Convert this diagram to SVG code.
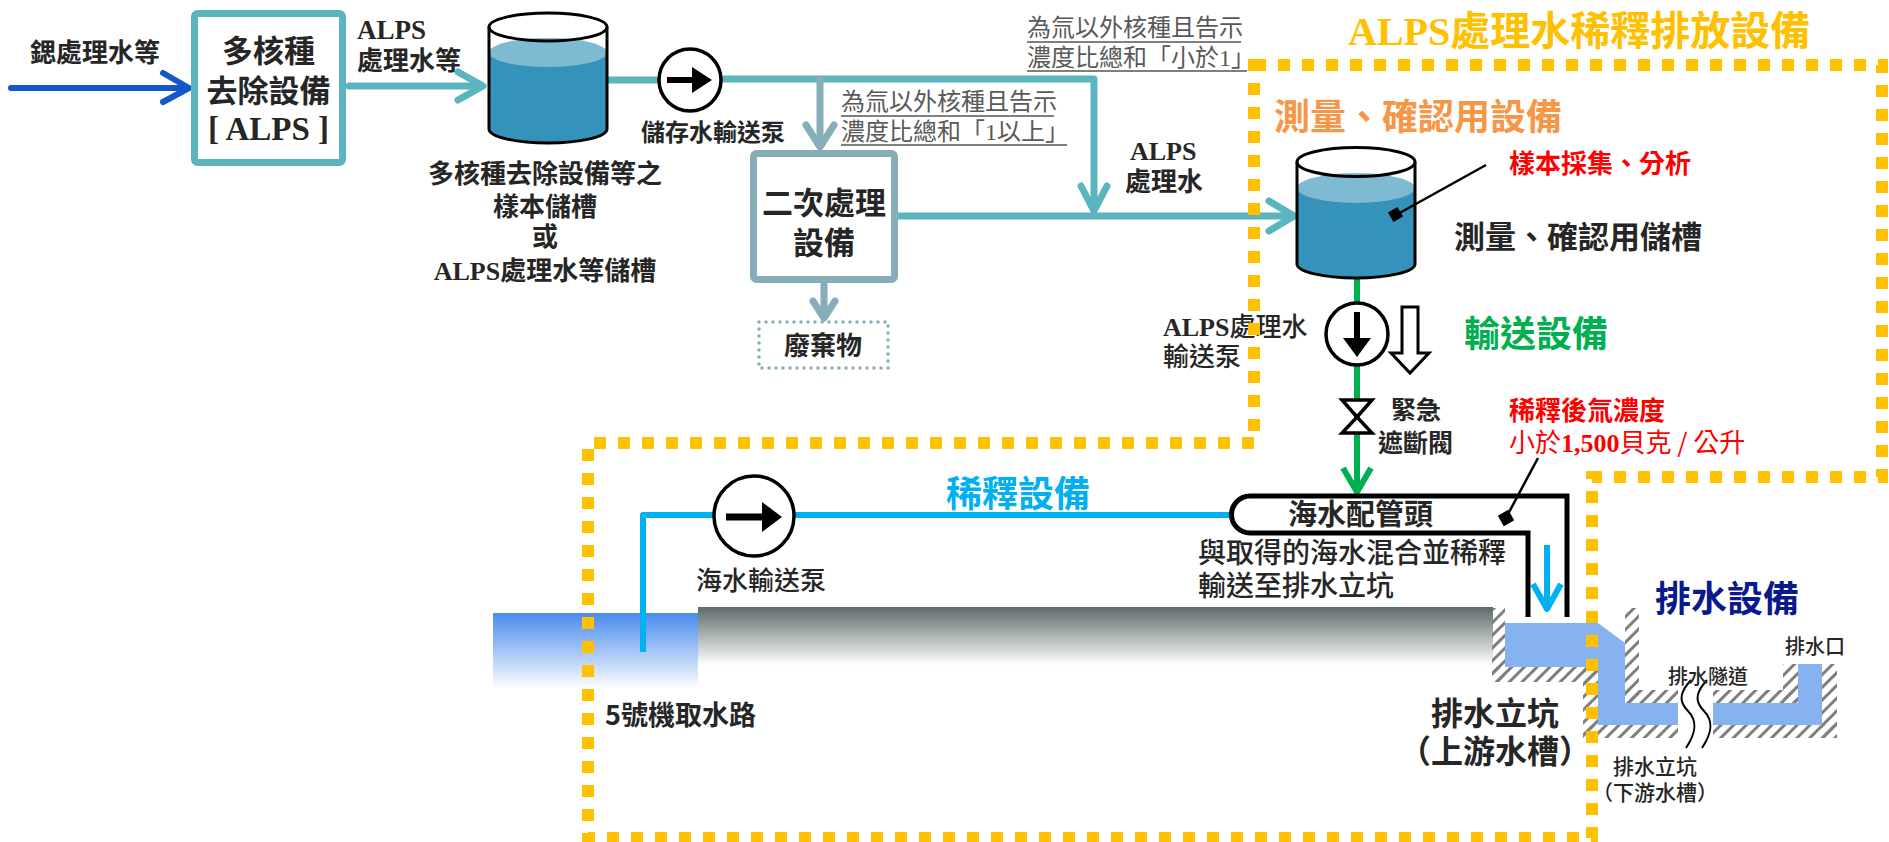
<svg xmlns="http://www.w3.org/2000/svg" width="1889" height="842" viewBox="0 0 1889 842">
<defs>
<linearGradient id="seaGrad" x1="0" y1="0" x2="0" y2="1"><stop offset="0" stop-color="#4A8BEE"/><stop offset="1" stop-color="#FFFFFF"/></linearGradient>
<linearGradient id="groundGrad" x1="0" y1="0" x2="0" y2="1"><stop offset="0" stop-color="#5E6A6A"/><stop offset="1" stop-color="#FFFFFF"/></linearGradient>
<pattern id="hatch" width="9" height="9" patternUnits="userSpaceOnUse" patternTransform="rotate(45)"><rect width="3" height="9" fill="#7F7F7F"/></pattern>
</defs>
<style>
text{font-family:"Noto Sans CJK TC","Noto Sans CJK SC",sans-serif;fill:#262626;}
.b{font-weight:700}
.m{font-weight:500}
.r{font-weight:400}
.serif{font-family:"Liberation Serif","Times New Roman",serif;font-weight:700}
.teal{stroke:#5AB5BF;stroke-width:7;fill:none;stroke-linecap:round;stroke-linejoin:round}
.gteal{stroke:#86AEB9;stroke-width:7;fill:none;stroke-linecap:round;stroke-linejoin:round}
.blue{stroke:#1457C9;stroke-width:6;fill:none;stroke-linecap:round;stroke-linejoin:round}
.cyan{stroke:#00B0F0;stroke-width:6;fill:none;stroke-linejoin:round}
.green{stroke:#00B050;stroke-width:6;fill:none;stroke-linejoin:round}
.out{stroke:#000;stroke-width:3;fill:none}
.pump{stroke:#000;stroke-width:3.5;fill:#fff}
.note{font-size:24px;fill:#595959;font-weight:400}
.ul{stroke:#7F7F7F;stroke-width:2}
.dots{stroke:#FFC000;stroke-width:12;fill:none;stroke-dasharray:12 12}
.water{fill:#86B2F2}
.htch{fill:url(#hatch)}
</style>

<!-- ground and sea background -->
<g id="ground">
<rect x="698" y="607" width="795" height="58" fill="url(#groundGrad)"/>
</g>
<g id="sea-intake">
<rect x="493" y="613" width="205" height="76" fill="url(#seaGrad)"/>
</g>

<!-- connectors -->
<g id="connectors">
<line class="blue" x1="11" y1="88" x2="186" y2="88"/>
<polyline class="blue" points="163,73 189,88 163,102"/>
<line class="teal" x1="349" y1="86" x2="481" y2="86"/>
<polyline class="teal" points="458,72 483,86 458,100"/>
<line class="teal" x1="607" y1="80" x2="659" y2="80"/>
<path class="teal" d="M721,79 H1094 V209"/>
<polyline class="teal" points="1081,186 1094,211 1107,186"/>
<path class="gteal" d="M820,79 V145"/>
<polyline class="gteal" points="806,125 820,147 834,125"/>
<line class="teal" x1="898" y1="216" x2="1292" y2="216"/>
<polyline class="teal" points="1269,201 1294,216 1269,231"/>
<path class="gteal" d="M824,283 V315"/>
<polyline class="gteal" points="813,301 824,318 835,301"/>
<line class="green" x1="1357" y1="277" x2="1357" y2="490"/>
<polyline class="green" points="1343,468 1357,492 1371,468"/>
<path class="cyan" d="M643,652 V515 H1232"/>
<line class="cyan" x1="1547" y1="545" x2="1547" y2="608"/>
<polyline class="cyan" points="1533,584 1547,609 1561,584"/>
</g>

<g id="alps-box">
<rect x="194.5" y="13.5" width="148" height="149" rx="3" fill="#fff" stroke="#5AB5BF" stroke-width="7"/>
<text class="b" x="268.5" y="62" font-size="31" text-anchor="middle">多核種</text>
<text class="b" x="268.5" y="102" font-size="31" text-anchor="middle">去除設備</text>
<text class="serif" x="268.5" y="140" font-size="33" text-anchor="middle" fill="#262626">[ ALPS ]</text>
</g>

<g id="input-label">
<text class="b" x="30" y="62" font-size="26">鍶處理水等</text>
</g>

<g id="alps-water-label">
<text class="serif" x="357" y="39" font-size="27">ALPS</text>
<text class="b" x="357" y="70" font-size="26">處理水等</text>
</g>

<g id="tank1">
<path d="M489,52 L489,129 A59,14 0 0 0 607,129 L607,52 Z" fill="#3592BA"/>
<ellipse cx="548" cy="52.5" rx="59" ry="14.5" fill="#7EBAD2"/>
<path class="out" d="M489,27 L489,129 A59,14 0 0 0 607,129 L607,27"/>
<ellipse class="out" cx="548" cy="27" rx="59" ry="14"/>
<text class="b" x="545" y="183" font-size="26" text-anchor="middle">多核種去除設備等之</text>
<text class="b" x="545" y="216" font-size="26" text-anchor="middle">樣本儲槽</text>
<text class="b" x="545" y="246" font-size="26" text-anchor="middle">或</text>
<text class="b" x="545" y="280" font-size="26" text-anchor="middle"><tspan class="serif">ALPS</tspan>處理水等儲槽</text>
</g>

<g id="storage-pump">
<circle class="pump" cx="690" cy="80" r="31"/>
<line x1="667" y1="80" x2="696" y2="80" stroke="#000" stroke-width="6"/>
<polygon points="692,67 712,80 692,93" fill="#000"/>
<text class="b" x="641" y="141" font-size="24">儲存水輸送泵</text>
</g>

<g id="note-under1">
<text class="note" x="1027" y="36">為氚以外核種且告示</text>
<text class="note" x="1027" y="66">濃度比總和「小於<tspan font-family="Liberation Serif, serif">1</tspan>」</text>
<line class="ul" x1="1027" y1="42" x2="1241" y2="42"/>
<line class="ul" x1="1027" y1="71" x2="1247" y2="71"/>
</g>

<g id="note-over1">
<text class="note" x="841" y="110">為氚以外核種且告示</text>
<text class="note" x="841" y="140">濃度比總和「<tspan font-family="Liberation Serif, serif">1</tspan>以上」</text>
<line class="ul" x1="841" y1="116" x2="1054" y2="116"/>
<line class="ul" x1="841" y1="145" x2="1067" y2="145"/>
</g>

<g id="secondary">
<rect x="753.5" y="153.5" width="141" height="126" rx="3" fill="#fff" stroke="#86AEB9" stroke-width="7"/>
<text class="b" x="824" y="214" font-size="31" text-anchor="middle">二次處理</text>
<text class="b" x="824" y="254" font-size="31" text-anchor="middle">設備</text>
</g>

<g id="waste">
<rect x="759" y="322" width="129" height="46" fill="none" stroke="#86AEB9" stroke-width="3.5" stroke-dasharray="0 7" stroke-linecap="round"/>
<text class="b" x="823" y="355" font-size="26" text-anchor="middle">廢棄物</text>
</g>

<g id="alps-treated-label">
<text class="serif" x="1130" y="160" font-size="26">ALPS</text>
<text class="b" x="1125" y="191" font-size="26">處理水</text>
</g>

<g id="tank2">
<path d="M1297,188 L1297,264 A59,14 0 0 0 1415,264 L1415,188 Z" fill="#3592BA"/>
<ellipse cx="1356" cy="188" rx="59" ry="15" fill="#7EBAD2"/>
<path class="out" d="M1297,162 L1297,264 A59,14 0 0 0 1415,264 L1415,162"/>
<ellipse class="out" cx="1356" cy="162" rx="59" ry="14.5"/>
<line x1="1486" y1="165" x2="1396" y2="215" stroke="#000" stroke-width="2.5"/>
<rect x="1390" y="209" width="11" height="11" fill="#000" transform="rotate(-30 1395.5 214.5)"/>
<text class="b" x="1509" y="173" font-size="26" style="fill:#FF0000">樣本採集、分析</text>
<text class="b" x="1454" y="248" font-size="31">測量、確認用儲槽</text>
</g>

<g id="alps-pump">
<circle class="pump" cx="1357" cy="334" r="31"/>
<line x1="1357" y1="312" x2="1357" y2="341" stroke="#000" stroke-width="6"/>
<polygon points="1343,338 1371,338 1357,357" fill="#000"/>
<polygon points="1402,307 1418,307 1418,353 1429,353 1410,373 1391,353 1402,353" fill="#fff" stroke="#000" stroke-width="3"/>
<text class="m" x="1163" y="336" font-size="26"><tspan class="serif">ALPS</tspan>處理水</text>
<text class="m" x="1163" y="366" font-size="26">輸送泵</text>
<text class="b" x="1464" y="347" font-size="36" style="fill:#00B050">輸送設備</text>
</g>

<g id="valve">
<polygon class="pump" points="1342,400 1372,400 1357,417"/>
<polygon class="pump" points="1342,433 1372,433 1357,417"/>
<text class="b" x="1391" y="419" font-size="25">緊急</text>
<text class="b" x="1378" y="452" font-size="25">遮斷閥</text>
</g>

<g id="concentration">
<text class="b" x="1509" y="420" font-size="26" style="fill:#FF0000">稀釋後氚濃度</text>
<text class="r" x="1509" y="452" font-size="26" style="fill:#FF0000">小於<tspan class="serif" style="fill:#FF0000">1,500</tspan>貝克 / 公升</text>
<line x1="1538" y1="458" x2="1507" y2="516" stroke="#000" stroke-width="2.5"/>
<rect x="1500" y="512" width="12" height="12" fill="#000" transform="rotate(-30 1506 518)"/>
</g>

<g id="header">
<path d="M1567,617 V496 H1250 A18.5,18.5 0 0 0 1250,533 H1528 V617" fill="none" stroke="#000" stroke-width="5"/>
<text class="b" x="1288" y="525" font-size="29">海水配管頭</text>
<text class="m" x="1198" y="563" font-size="28">與取得的海水混合並稀釋</text>
<text class="m" x="1198" y="596" font-size="28">輸送至排水立坑</text>
</g>

<g id="sea-pump">
<circle class="pump" cx="754" cy="516" r="40"/>
<line x1="726" y1="517" x2="766" y2="517" stroke="#000" stroke-width="7"/>
<polygon points="762,502 782,517 762,532" fill="#000"/>
<text class="m" x="696" y="590" font-size="26">海水輸送泵</text>
<text class="b" x="946" y="507" font-size="36" style="fill:#00B0F0">稀釋設備</text>
</g>

<g id="intake-label">
<text class="b" x="605" y="725" font-size="27">5號機取水路</text>
</g>

<g id="upstream-shaft">
<rect class="htch" x="1492" y="608" width="13" height="74"/>
<rect class="htch" x="1492" y="667" width="106" height="15"/>
<polygon class="water" points="1505,623 1598,623 1625,643 1625,703 1678,703 1678,725 1598,725 1598,667 1505,667"/>
<text class="b" x="1495" y="725" font-size="32" text-anchor="middle">排水立坑</text>
<text class="b" x="1495" y="763" font-size="32" text-anchor="middle">（上游水槽）</text>
</g>

<g id="drain">
<rect class="htch" x="1583" y="667" width="15" height="71"/>
<rect class="htch" x="1583" y="725" width="95" height="13"/>
<rect class="htch" x="1625" y="608" width="14" height="95"/>
<rect class="htch" x="1625" y="690" width="53" height="13"/>
<rect class="htch" x="1713" y="690" width="85" height="13"/>
<rect class="htch" x="1783" y="664" width="15" height="39"/>
<rect class="htch" x="1822" y="664" width="15" height="74"/>
<rect class="htch" x="1713" y="725" width="124" height="13"/>
<polygon class="water" points="1713,703 1798,703 1798,664 1822,664 1822,725 1713,725"/>
<path d="M1691,680 C1680,692 1678,701 1688,711 C1698,721 1696,733 1686,748" fill="none" stroke="#000" stroke-width="2"/>
<path d="M1707,680 C1696,692 1694,701 1704,711 C1714,721 1712,733 1702,748" fill="none" stroke="#000" stroke-width="2"/>
<text class="b" x="1655" y="612" font-size="36" style="fill:#0A1A8C">排水設備</text>
<text class="m" x="1785" y="654" font-size="20">排水口</text>
<text class="m" x="1668" y="684" font-size="20">排水隧道</text>
<text class="m" x="1655" y="774" font-size="21" text-anchor="middle">排水立坑</text>
<text class="m" x="1655" y="800" font-size="21" text-anchor="middle">（下游水槽）</text>
</g>

<g id="boundary">
<polygon class="dots" points="1254,65 1882,65 1882,477 1592,477 1592,838 588,838 588,443 1254,443"/>
<text class="b" x="1348" y="45" font-size="40" style="fill:#FFC000"><tspan class="serif" style="fill:#FFC000">ALPS</tspan>處理水稀釋排放設備</text>
<text class="b" x="1274" y="130" font-size="36" style="fill:#F79646">測量、確認用設備</text>
</g>
</svg>
